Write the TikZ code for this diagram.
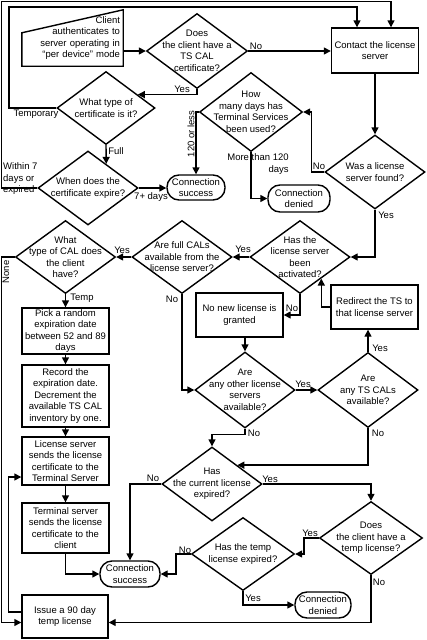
\documentclass[tikz,border=0pt]{standalone}
\usepackage{fontspec}
\setmainfont{Liberation Sans}
\usetikzlibrary{arrows.meta,shapes.geometric,calc}

\begin{document}
\begin{tikzpicture}[
    x=1pt, y=-1pt,
    every node/.style={font=\fontsize{9.5}{11.5}\selectfont},
    box/.style={draw, line width=1.4pt, align=center, inner sep=1pt, minimum width=87pt},
    term/.style={draw, line width=1.4pt, align=center, inner sep=1pt, rounded corners=12pt, minimum height=25pt},
    dia/.style={draw, line width=1.4pt, diamond, inner sep=0pt, minimum width=100pt, minimum height=74pt},
    txt/.style={align=center, inner sep=0pt},
    lab/.style={inner sep=0pt},
    wire/.style={line width=1.4pt, -{Triangle[length=7pt,width=7pt]}},
    line/.style={line width=1.4pt}
  ]
  \useasboundingbox (0,0) rectangle (426,640);

  % top part
  \node[minimum width=101pt, minimum height=56pt, inner sep=0pt, text width=95pt, align=right] (client) at (72.5,38) {Client\\authenticates to\\server operating in\\``per device'' mode};
  \draw[line] (client.south west) -- (client.south east) -- (client.north east) -- ([yshift=-23pt]client.north west) -- cycle;
  \node[dia, minimum width=101pt, minimum height=75pt, label={[txt]center:{Does\\the client have a\\TS CAL\\certificate?}}] (hascal) at (197,51) {};
  \node[box, minimum height=45pt] (contact) at (375,50.5) {Contact the license\\server};
  \node[dia, minimum width=98pt, minimum height=73pt, label={[txt]center:{What type of\\certificate is it?}}] (certtype) at (106,108) {};
  \node[dia, minimum width=103pt, minimum height=79pt, label={[txt]center:{How\\many days has\\Terminal Services\\been used?}}] (days) at (251,112) {};
  \node[dia, label={[txt]center:{Was a license\\server found?}}] (found) at (375,172) {};
  \node[dia, label={[txt]center:{When does the\\certificate expire?}}] (expire) at (88,188) {};
  \node[term, minimum width=58pt] (ok1) at (196,187.5) {Connection\\success};
  \node[term, minimum width=62pt, minimum height=27pt] (denied1) at (299,198.5) {Connection\\denied};

  % middle row
  \node[dia, minimum height=73pt, label={[txt]center:{What\\type of CAL does\\the client\\have?}}] (caltype) at (65.5,257) {};
  \node[dia, minimum height=73pt, label={[txt]center:{Are full CALs\\available from the\\license server?}}] (fullcal) at (182,257) {};
  \node[dia, minimum height=73pt, label={[txt]center:{Has the\\license server\\been\\activated?}}] (active) at (300,257) {};
  \node[box, minimum height=44pt] (redirect) at (374.5,307) {Redirect the TS to\\that license server};
  \node[box, minimum height=44pt] (nonew) at (239.5,315) {No new license is\\granted};
  \node[dia, minimum height=76pt, label={[txt]center:{Are\\any other license\\servers\\available?}}] (others) at (245,390) {};
  \node[dia, minimum height=75pt, label={[txt]center:{Are\\any TS CALs\\available?}}] (tscal) at (368,390) {};

  % left column
  \node[box, minimum height=46pt] (pick) at (65.5,331) {Pick a random\\expiration date\\between 52 and 89\\days};
  \node[box, minimum height=62pt] (record) at (65.5,396) {Record the\\expiration date.\\Decrement the\\available TS CAL\\inventory by one.};
  \node[box, minimum height=48pt] (lssend) at (65.5,461) {License server\\sends the license\\certificate to the\\Terminal Server};
  \node[box, minimum height=50pt] (tssend) at (65.5,528) {Terminal server\\sends the license\\certificate to the\\client};
  \node[box, minimum width=86pt, minimum height=43pt] (issue) at (65,616.5) {Issue a 90 day\\temp license};

  % bottom part
  \node[dia, label={[txt]center:{Has\\the current license\\expired?}}] (curexp) at (212,484) {};
  \node[dia, minimum width=103pt, minimum height=73pt, label={[txt]center:{Does\\the client have a\\temp license?}}] (hastemp) at (371,538) {};
  \node[dia, minimum width=103pt, minimum height=73pt, label={[txt]center:{Has the temp\\license expired?}}] (tempexp) at (243,554) {};
  \node[term, minimum width=60pt, minimum height=26pt] (ok2) at (130,574) {Connection\\success};
  \node[term, minimum width=56pt, minimum height=26pt] (denied2) at (323,605) {Connection\\denied};

  % entry points on diamond edges
  \path (certtype.north) -- (certtype.east) coordinate[pos=0.64] (certin);
  \path (expire.north) -- (expire.east) coordinate[pos=0.36] (expin);
  \path (active.south) -- (active.east) coordinate[pos=0.42] (actin);

  % connectors
  \draw[wire] (client.east |- hascal) -- (hascal.west);
  \draw[wire] (hascal.east) -- (hascal.east -| contact.west);
  \draw[wire] (hascal.south) |- (certin);
  \draw[wire] (certtype.west) -| (9,7) -| ([xshift=-18pt]contact.north);
  \draw[wire] (certtype.south) -- (expin);
  \draw[wire] (expire.west) -| (1.5,1.5) -| ([xshift=16pt]contact.north);
  \draw[wire] (expire.east) -- (expire.east -| ok1.west);
  \draw[wire] (contact.south) -- (found.north);
  \draw[wire] (found.west) -- ++(-13,0) |- (days.east);
  \draw[wire] (days.west) -| (ok1.north);
  \draw[wire] (days.south) |- (denied1.west);
  \draw[wire] (found.south) |- (active.east);
  \draw[wire] (active.west) -- (fullcal.east);
  \draw[wire] (fullcal.west) -- (caltype.east);
  \draw[wire] (caltype.south) -- (pick.north);
  \draw[wire] (pick.south) -- (record.north);
  \draw[wire] (record.south) -- (lssend.north);
  \draw[wire] (lssend.south) -- (tssend.north);
  \draw[wire] (tssend.south) |- (ok2.west);
  \draw[wire] (caltype.west) -| (1.5,622.5) -- ([yshift=-6pt]issue.west);
  \draw[wire] ([yshift=4.5pt]issue.west) -- ++(-13,0) |- ([yshift=-16pt]lssend.west);
  \draw[wire] (fullcal.south) |- (others.west);
  \draw[wire] (active.south) |- (nonew.east);
  \draw[wire] (redirect.west) -| (actin);
  \draw[wire] (nonew.south -| others.north) -- (others.north);
  \draw[wire] (others.east) -- (tscal.west);
  \draw[wire] (tscal.north) -- (tscal.north |- redirect.south);
  \draw[wire] (tscal.south) |- (curexp.north east);
  \draw[wire] (others.south) -- ++(0,6) -| (curexp.north);
  \draw[wire] (curexp.west) -| (ok2.north);
  \draw[wire] (curexp.east) -| (hastemp.north);
  \draw[wire] (hastemp.west) -- ++(-15,0) |- (tempexp.east);
  \draw[wire] (hastemp.south) |- ([yshift=-6pt]issue.east);
  \draw[wire] (tempexp.west) -- ++(-15,0) |- (ok2.east);
  \draw[wire] (tempexp.south) |- (denied2.west);

  % labels
  \node[lab] (lno1) at (256,46) {No};
  \node[lab] (lyes1) at (182,89) {Yes};
  \node[lab] (ltemp) at (36,114) {Temporary};
  \node[lab] (lfull) at (116,151) {Full};
  \node[lab, align=left, anchor=west] (lwithin) at (3,179) {Within 7\\days or\\expired};
  \node[lab] (lsevenp) at (151,197) {7+ days};
  \node[lab] (lno2) at (319,166) {No};
  \node[lab, rotate=90] (lless) at (191,134) {120 or less};
  \node[lab, align=right] (lmore) at (258,164) {More than 120\\days};
  \node[lab] (lyes2) at (386,215) {Yes};
  \node[lab] (lyes3) at (243,249) {Yes};
  \node[lab] (lyes4) at (122,250) {Yes};
  \node[lab, rotate=90] (lnone) at (6,272) {None};
  \node[lab] (ltempc) at (82,298) {Temp};
  \node[lab] (lno3) at (172,299) {No};
  \node[lab] (lno4) at (292,308) {No};
  \node[lab] (lyes5) at (303,384) {Yes};
  \node[lab] (lyes6) at (380,348) {Yes};
  \node[lab] (lno5) at (378,433) {No};
  \node[lab] (lno6) at (254,433) {No};
  \node[lab] (lno7) at (153,478) {No};
  \node[lab] (lyes7) at (270,479) {Yes};
  \node[lab] (lyes8) at (310,533) {Yes};
  \node[lab] (lno8) at (379,582) {No};
  \node[lab] (lno9) at (185,550) {No};
  \node[lab] (lyes9) at (253,598) {Yes};
\end{tikzpicture}
\end{document}
